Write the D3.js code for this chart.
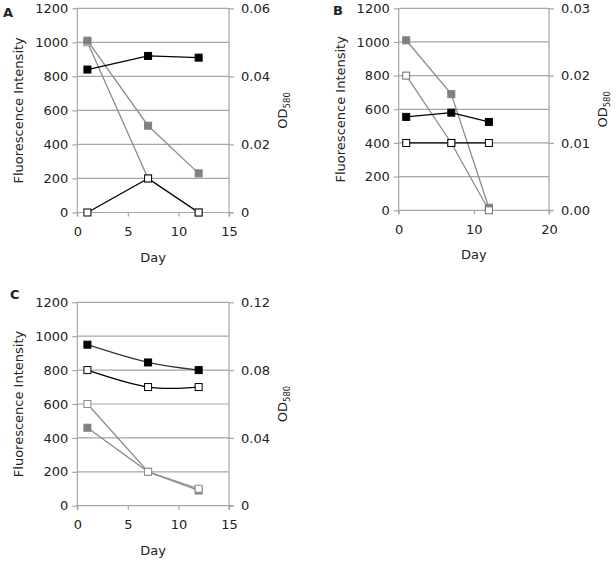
<!DOCTYPE html>
<html><head><meta charset="utf-8">
<script src="https://cdn.jsdelivr.net/npm/d3@7"></script>
<style>body{margin:0;background:#fff}svg{display:block}text{font-family:"DejaVu Sans",Verdana,sans-serif;fill:#222}</style>
</head><body>
<svg id="c" width="616" height="561"></svg>
<script>
const days = [1, 7, 12];

// Panel A
const aBlackFilled = [840, 920, 910];
const aGrayFilled  = [1010, 510, 230];
const aGrayOpen    = [1000, 200, 0];
const aBlackOpen   = [0, 200, 0];
// Panel B
const bGrayFilled  = [1010, 690, 15];
const bGrayOpen    = [800, 400, 0];
const bBlackFilled = [555, 580, 525];
const bBlackOpen   = [400, 400, 400];
// Panel C
const cBlackFilled = [950, 845, 800];
const cBlackOpen   = [800, 700, 700];
const cGrayOpen    = [600, 200, 100];
const cGrayFilled  = [460, 200, 90];

const leftTicks = [0, 200, 400, 600, 800, 1000, 1200];
const aRightTicks = ["0", "0.02", "0.04", "0.06"];
const bRightTicks = ["0.00", "0.01", "0.02", "0.03"];
const cRightTicks = ["0", "0.04", "0.08", "0.12"];
const aXTicks = [0, 5, 10, 15];
const bXTicks = [0, 10, 20];
const cXTicks = [0, 5, 10, 15];

const panels = [
  {letter:"A", lx:3, ly:17, x0:77.3, x1:229, yT:8.3, yB:212.5, xmax:15, xt:aXTicks, rt:aRightTicks,
   series:[
    {v:aGrayOpen, c:"#8c8c8c", fill:"#fff", stroke:"#8c8c8c"},
    {v:aGrayFilled, c:"#8c8c8c", fill:"#808080", stroke:"#808080"},
    {v:aBlackFilled, c:"#000", fill:"#000", stroke:"#000"},
    {v:aBlackOpen, c:"#000", fill:"#fff", stroke:"#000"}]},
  {letter:"B", lx:333, ly:15, x0:398.7, x1:549, yT:8.3, yB:210.3, xmax:20, xt:bXTicks, rt:bRightTicks,
   series:[
    {v:bGrayFilled, c:"#8c8c8c", fill:"#808080", stroke:"#808080"},
    {v:bGrayOpen, c:"#8c8c8c", fill:"#fff", stroke:"#707070"},
    {v:bBlackFilled, c:"#000", fill:"#000", stroke:"#000"},
    {v:bBlackOpen, c:"#000", fill:"#fff", stroke:"#000"}]},
  {letter:"C", lx:10, ly:299, x0:77.3, x1:229, yT:302.3, yB:505.7, xmax:15, xt:cXTicks, rt:cRightTicks,
   series:[
    {v:cGrayFilled, c:"#8c8c8c", fill:"#808080", stroke:"#808080"},
    {v:cGrayOpen, c:"#8c8c8c", fill:"#fff", stroke:"#8c8c8c"},
    {v:cBlackFilled, c:"#333", fill:"#000", stroke:"#000", smooth:true},
    {v:cBlackOpen, c:"#000", fill:"#fff", stroke:"#000", smooth:true}]}
];

const svg = d3.select("#c");
const axisCol = "#a6a6a6";
const fs = 13;

panels.forEach(p => {
  const g = svg.append("g");
  const x = d3.scaleLinear().domain([0, p.xmax]).range([p.x0, p.x1]);
  const y = d3.scaleLinear().domain([0, 1200]).range([p.yB, p.yT]);
  const yr = d3.scaleLinear().domain([0, p.rt.length - 1]).range([p.yB, p.yT]);

  g.selectAll(".grid").data(leftTicks.filter(t => t > 0)).join("line")
    .attr("x1", p.x0).attr("x2", p.x1)
    .attr("y1", d => y(d)).attr("y2", d => y(d))
    .attr("stroke", axisCol).attr("stroke-width", 1.2);

  const la = g.append("g").attr("transform", `translate(${p.x0},0)`)
    .call(d3.axisLeft(y).tickValues(leftTicks).tickFormat(d3.format("d")).tickSize(5).tickPadding(4));
  const ra = g.append("g").attr("transform", `translate(${p.x1},0)`)
    .call(d3.axisRight(yr).tickValues(d3.range(p.rt.length)).tickFormat(i => p.rt[i]).tickSize(5).tickPadding(7));
  const ba = g.append("g").attr("transform", `translate(0,${p.yB})`)
    .call(d3.axisBottom(x).tickValues(p.xt).tickSize(4).tickPadding(10));
  [la, ra, ba].forEach(a => {
    a.selectAll("path").attr("stroke", axisCol).attr("stroke-width", 1.2);
    a.selectAll("line").attr("stroke", axisCol).attr("stroke-width", 1.2);
    a.selectAll("text").attr("font-size", fs).attr("fill", "#222")
      .style("font-family", "'DejaVu Sans', Verdana, sans-serif");
  });
  ba.select(".domain").attr("d", `M${p.x0},0H${p.x1 + 4}`);
  ra.select(".domain").attr("d", `M0,${p.yT}V${p.yB + 4}`);
  la.select(".domain").attr("d", `M0,${p.yT}V${p.yB + 4}`);

  const cy = (p.yT + p.yB) / 2;
  g.append("text").attr("transform", `translate(${p.x0 - 54},${cy}) rotate(-90)`)
    .attr("text-anchor", "middle").attr("font-size", fs).text("Fluorescence Intensity");
  const od = g.append("text").attr("transform", `translate(${p.x1 + 58},${cy}) rotate(-90)`)
    .attr("text-anchor", "middle").attr("font-size", fs);
  od.append("tspan").text("OD");
  od.append("tspan").attr("font-size", 8.5).attr("dy", 3).text("580");
  g.append("text").attr("x", (p.x0 + p.x1) / 2).attr("y", p.yB + 49)
    .attr("text-anchor", "middle").attr("font-size", fs).text("Day");
  g.append("text").attr("x", p.lx).attr("y", p.ly).attr("font-size", 13)
    .attr("font-weight", "bold").text(p.letter);

  p.series.forEach(s => {
    const pts = days.map((d, i) => [d, s.v[i]]);
    const line = d3.line().x(d => x(d[0])).y(d => y(d[1]))
      .curve(s.smooth ? d3.curveCatmullRom.alpha(0) : d3.curveLinear);
    g.append("path").attr("d", line(pts)).attr("fill", "none")
      .attr("stroke", s.c).attr("stroke-width", 1.3);
  });
  p.series.forEach(s => {
    const pts = days.map((d, i) => [d, s.v[i]]);
    g.selectAll(null).data(pts).join("rect")
      .attr("x", d => x(d[0]) - 3.5).attr("y", d => y(d[1]) - 3.5)
      .attr("width", 7).attr("height", 7)
      .attr("fill", s.fill).attr("stroke", s.stroke).attr("stroke-width", 1);
  });
});
</script>
</body></html>
